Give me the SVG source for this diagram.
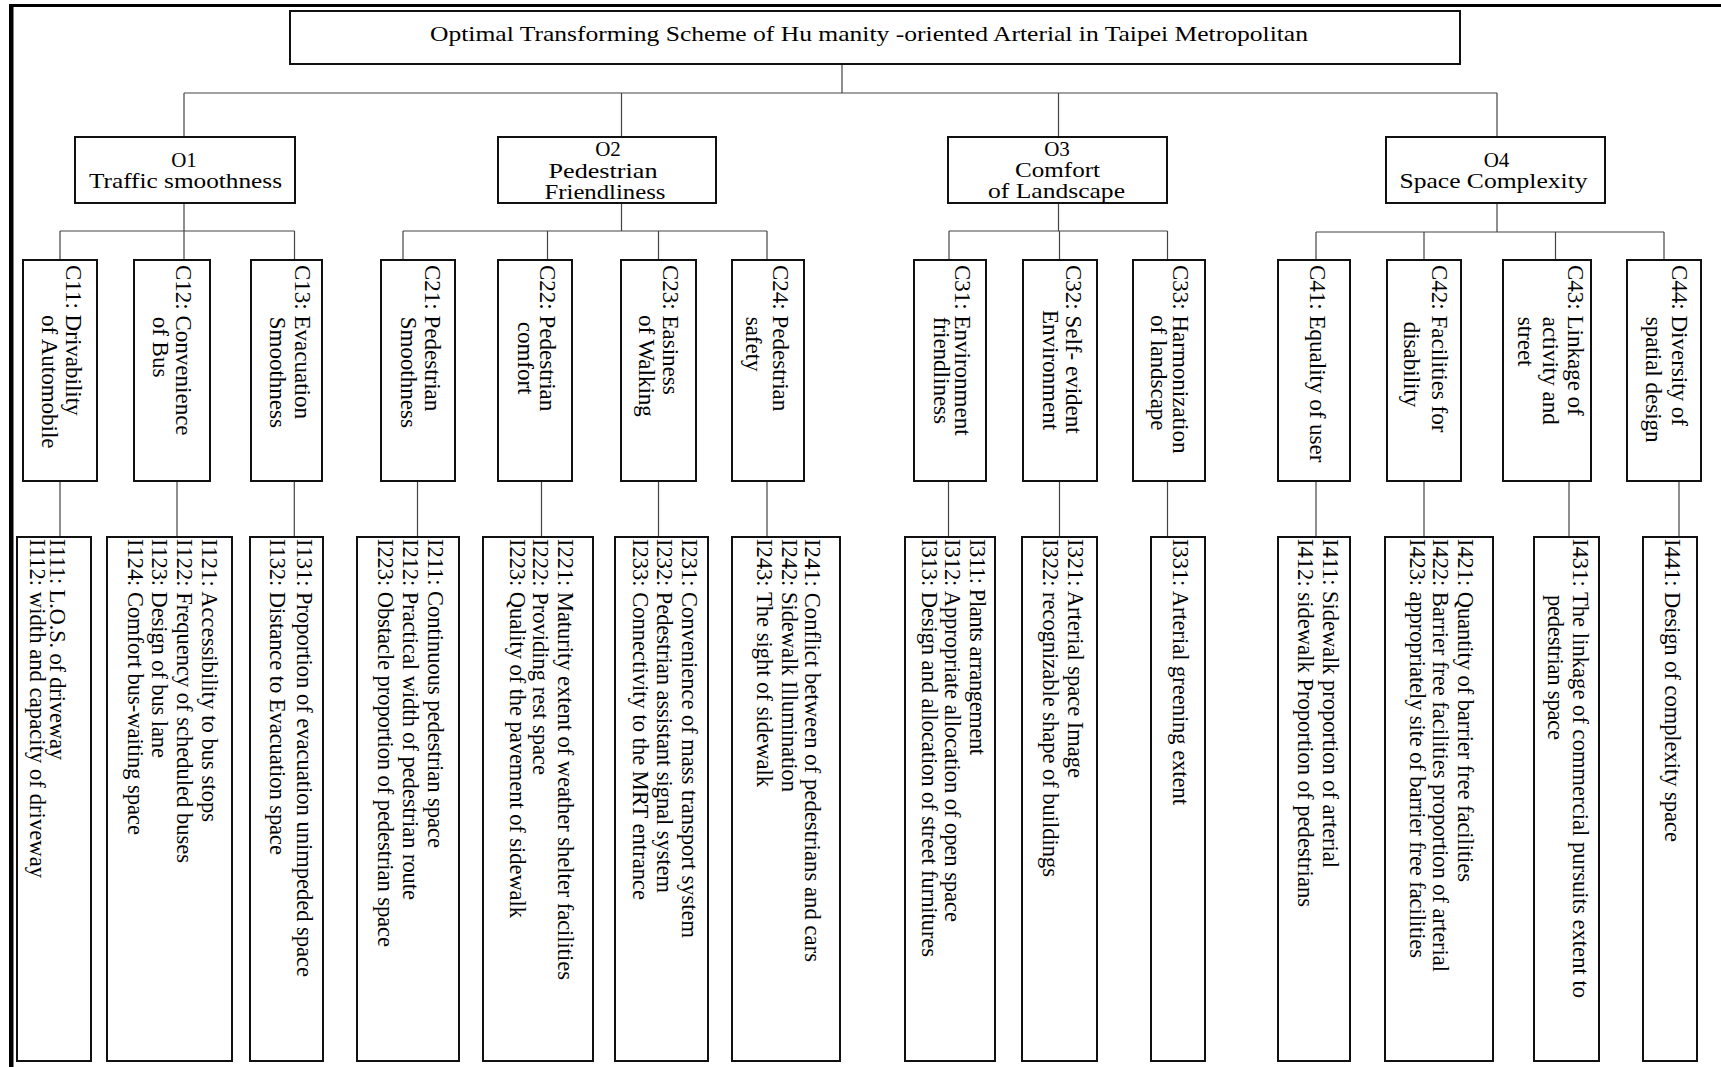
<svg xmlns="http://www.w3.org/2000/svg" width="1721" height="1067" viewBox="0 0 1721 1067">
<style>
text{font-family:"Liberation Serif","Times New Roman",serif;fill:#000}
.box{fill:#fff;stroke:#111;stroke-width:2}
.ot{font-size:21px;text-anchor:middle}
.ct{font-size:23px}
.it{font-size:22.5px}
.con{fill:none;stroke:#444;stroke-width:1.2}
</style>
<rect width="1721" height="1067" fill="#fff"/>
<g id="frame">
<rect x="9" y="4" width="4.5" height="1063" fill="#000"/>
<rect x="9" y="4" width="1712" height="3" fill="#000"/>
</g>
<g id="connectors" class="con">
<path d="M842,64V93M184,93H1497M184,93V137M621.5,93V137M1058.5,93V137M1497,93V137"/>
<path d="M184,203V231M60,231H294.5M60,231V260M184,231V260M294.5,231V260"/>
<path d="M621.5,203V231M403,231H767M403,231V260M547.5,231V260M658.5,231V260M767,231V260"/>
<path d="M1058.5,203V231M949,231H1167.5M949,231V260M1059.5,231V260M1167.5,231V260"/>
<path d="M1497,203V232M1316,232H1664M1316,232V260M1424,232V260M1555.5,232V260M1664,232V260"/>
<path d="M60,481V537M177,481V537M294.3,481V537M417.5,481V537M541.5,481V537M658.5,481V537M767,481V537M948.5,481V537M1059.5,481V537M1167.5,481V537M1316,481V537M1424,481V537M1569,481V537M1679,481V537"/>
</g>
<g id="goal">
<rect class="box" x="290" y="11" width="1170" height="53"/>
<text x="430" y="41" font-size="22" textLength="878" lengthAdjust="spacingAndGlyphs">Optimal Transforming Scheme of Hu manity -oriented Arterial in Taipei Metropolitan</text>
</g>
<g id="O1">
<rect class="box" x="75" y="137" width="220" height="66"/>
<text class="ot" x="184" y="166.7">O1</text>
<text class="ot" x="185.5" y="188" textLength="193" lengthAdjust="spacingAndGlyphs">Traffic smoothness</text>
</g>
<g id="O2">
<rect class="box" x="498" y="137" width="218" height="66"/>
<text class="ot" x="608" y="156">O2</text>
<text class="ot" x="603" y="177.5" textLength="109" lengthAdjust="spacingAndGlyphs">Pedestrian</text>
<text class="ot" x="605" y="198.5" textLength="121" lengthAdjust="spacingAndGlyphs">Friendliness</text>
</g>
<g id="O3">
<rect class="box" x="948" y="137" width="219" height="66"/>
<text class="ot" x="1057" y="156">O3</text>
<text class="ot" x="1057.5" y="177" textLength="85" lengthAdjust="spacingAndGlyphs">Comfort</text>
<text class="ot" x="1056.5" y="197.5" textLength="137" lengthAdjust="spacingAndGlyphs">of Landscape</text>
</g>
<g id="O4">
<rect class="box" x="1386" y="137" width="219" height="66"/>
<text class="ot" x="1496.5" y="167">O4</text>
<text class="ot" x="1493.5" y="187.5" textLength="188" lengthAdjust="spacingAndGlyphs">Space Complexity</text>
</g>
<g id="C11"><rect class="box" x="23" y="260" width="74" height="221"/>
<text class="ct" x="65.8" y="265" transform="rotate(90 65.8 265)">C11: Drivability</text>
<text class="ct" x="41.7" y="315" transform="rotate(90 41.7 315)">of Automobile</text></g>
<g id="C12"><rect class="box" x="134" y="260" width="76" height="221"/>
<text class="ct" x="176" y="265" transform="rotate(90 176 265)">C12: Convenience</text>
<text class="ct" x="152.7" y="316.7" transform="rotate(90 152.7 316.7)">of Bus</text></g>
<g id="C13"><rect class="box" x="251" y="260" width="71" height="221"/>
<text class="ct" x="294.7" y="265" transform="rotate(90 294.7 265)">C13: Evacuation</text>
<text class="ct" x="269.5" y="316.7" transform="rotate(90 269.5 316.7)">Smoothness</text></g>
<g id="C21"><rect class="box" x="381" y="260" width="74" height="221"/>
<text class="ct" x="424.8" y="265" transform="rotate(90 424.8 265)">C21: Pedestrian</text>
<text class="ct" x="401.4" y="316.7" transform="rotate(90 401.4 316.7)">Smoothness</text></g>
<g id="C22"><rect class="box" x="498" y="260" width="74" height="221"/>
<text class="ct" x="539.6" y="265" transform="rotate(90 539.6 265)">C22: Pedestrian</text>
<text class="ct" x="518.2" y="321.7" transform="rotate(90 518.2 321.7)">comfort</text></g>
<g id="C23"><rect class="box" x="621" y="260" width="75" height="221"/>
<text class="ct" x="663.4" y="265" transform="rotate(90 663.4 265)">C23: Easiness</text>
<text class="ct" x="639" y="315" transform="rotate(90 639 315)">of Walking</text></g>
<g id="C24"><rect class="box" x="732" y="260" width="72" height="221"/>
<text class="ct" x="773.3" y="265" transform="rotate(90 773.3 265)">C24: Pedestrian</text>
<text class="ct" x="746" y="316.7" transform="rotate(90 746 316.7)">safety</text></g>
<g id="C31"><rect class="box" x="914" y="260" width="72" height="221"/>
<text class="ct" x="955" y="265" transform="rotate(90 955 265)">C31: Environment</text>
<text class="ct" x="933.6" y="316.7" transform="rotate(90 933.6 316.7)">friendliness</text></g>
<g id="C32"><rect class="box" x="1023" y="260" width="74" height="221"/>
<text class="ct" x="1066" y="265" transform="rotate(90 1066 265)">C32: Self- evident</text>
<text class="ct" x="1042.7" y="310" transform="rotate(90 1042.7 310)">Environment</text></g>
<g id="C33"><rect class="box" x="1133" y="260" width="72" height="221"/>
<text class="ct" x="1173" y="265" transform="rotate(90 1173 265)">C33: Harmonization</text>
<text class="ct" x="1150.7" y="315" transform="rotate(90 1150.7 315)">of landscape</text></g>
<g id="C41"><rect class="box" x="1278" y="260" width="72" height="221"/>
<text class="ct" x="1309.5" y="265" transform="rotate(90 1309.5 265)">C41: Equality of user</text></g>
<g id="C42"><rect class="box" x="1387" y="260" width="74" height="221"/>
<text class="ct" x="1431.5" y="265" transform="rotate(90 1431.5 265)">C42: Facilities for</text>
<text class="ct" x="1404" y="321.7" transform="rotate(90 1404 321.7)">disability</text></g>
<g id="C43"><rect class="box" x="1503" y="260" width="88" height="221"/>
<text class="ct" x="1568" y="265" transform="rotate(90 1568 265)">C43: Linkage of</text>
<text class="ct" x="1542.6" y="316.7" transform="rotate(90 1542.6 316.7)">activity and</text>
<text class="ct" x="1518" y="316.7" transform="rotate(90 1518 316.7)">street</text></g>
<g id="C44"><rect class="box" x="1627" y="260" width="74" height="221"/>
<text class="ct" x="1671.7" y="265" transform="rotate(90 1671.7 265)">C44: Diversity of</text>
<text class="ct" x="1646" y="316.7" transform="rotate(90 1646 316.7)">spatial design</text></g>
<g id="I11"><rect class="box" x="17" y="537" width="74" height="524"/>
<text class="it" x="50" y="539" transform="rotate(90 50 539)" textLength="221">I111: L.O.S. of driveway</text>
<text class="it" x="30" y="539" transform="rotate(90 30 539)" textLength="339">I112: width and capacity of driveway</text></g>
<g id="I12"><rect class="box" x="107" y="537" width="125" height="524"/>
<text class="it" x="201.7" y="539" transform="rotate(90 201.7 539)" textLength="283">I121: Accessibility to bus stops</text>
<text class="it" x="176.7" y="539" transform="rotate(90 176.7 539)" textLength="324">I122: Frequency of scheduled buses</text>
<text class="it" x="151.7" y="539" transform="rotate(90 151.7 539)" textLength="219">I123: Design of bus lane</text>
<text class="it" x="128.3" y="539" transform="rotate(90 128.3 539)" textLength="296">I124: Comfort bus-waiting space</text></g>
<g id="I13"><rect class="box" x="250" y="537" width="73" height="524"/>
<text class="it" x="296.7" y="539" transform="rotate(90 296.7 539)" textLength="438">I131: Proportion of evacuation unimpeded space</text>
<text class="it" x="270" y="539" transform="rotate(90 270 539)" textLength="316">I132: Distance to Evacuation space</text></g>
<g id="I21"><rect class="box" x="357" y="537" width="102" height="524"/>
<text class="it" x="428.3" y="539" transform="rotate(90 428.3 539)" textLength="309">I211: Continuous pedestrian space</text>
<text class="it" x="403.3" y="539" transform="rotate(90 403.3 539)" textLength="361">I212: Practical width of pedestrian route</text>
<text class="it" x="378.3" y="539" transform="rotate(90 378.3 539)" textLength="408">I223: Obstacle proportion of pedestrian space</text></g>
<g id="I22"><rect class="box" x="483" y="537" width="110" height="524"/>
<text class="it" x="558.3" y="539" transform="rotate(90 558.3 539)" textLength="441">I221: Maturity extent of weather shelter facilities</text>
<text class="it" x="533.3" y="539" transform="rotate(90 533.3 539)" textLength="236">I222: Providing rest space</text>
<text class="it" x="510" y="539" transform="rotate(90 510 539)" textLength="379">I223: Quality of the pavement of sidewalk</text></g>
<g id="I23"><rect class="box" x="615" y="537" width="93" height="524"/>
<text class="it" x="681.7" y="539" transform="rotate(90 681.7 539)" textLength="399">I231: Convenience of mass transport system</text>
<text class="it" x="656.7" y="539" transform="rotate(90 656.7 539)" textLength="354">I232: Pedestrian assistant signal system</text>
<text class="it" x="633.3" y="539" transform="rotate(90 633.3 539)" textLength="361">I233: Connectivity to the MRT entrance</text></g>
<g id="I24"><rect class="box" x="732" y="537" width="108" height="524"/>
<text class="it" x="805" y="539" transform="rotate(90 805 539)" textLength="423">I241: Conflict between of pedestrians and cars</text>
<text class="it" x="781.7" y="539" transform="rotate(90 781.7 539)" textLength="253">I242: Sidewalk Illumination</text>
<text class="it" x="756.7" y="539" transform="rotate(90 756.7 539)" textLength="248">I243: The sight of sidewalk</text></g>
<g id="I31"><rect class="box" x="905" y="537" width="90" height="524"/>
<text class="it" x="970" y="539" transform="rotate(90 970 539)" textLength="216">I311: Plants arrangement</text>
<text class="it" x="945" y="539" transform="rotate(90 945 539)" textLength="383">I312: Appropriate allocation of open space</text>
<text class="it" x="921.7" y="539" transform="rotate(90 921.7 539)" textLength="418">I313: Design and allocation of street furnitures</text></g>
<g id="I32"><rect class="box" x="1022" y="537" width="75" height="524"/>
<text class="it" x="1068.3" y="539" transform="rotate(90 1068.3 539)" textLength="239">I321: Arterial space Image</text>
<text class="it" x="1043.3" y="539" transform="rotate(90 1043.3 539)" textLength="338">I322: recognizable shape of buildings</text></g>
<g id="I33"><rect class="box" x="1151" y="537" width="54" height="524"/>
<text class="it" x="1173.3" y="539" transform="rotate(90 1173.3 539)" textLength="266">I331: Arterial greening extent</text></g>
<g id="I41"><rect class="box" x="1278" y="537" width="72" height="524"/>
<text class="it" x="1323.3" y="539" transform="rotate(90 1323.3 539)" textLength="329">I411: Sidewalk proportion of arterial</text>
<text class="it" x="1298.3" y="539" transform="rotate(90 1298.3 539)" textLength="368">I412: sidewalk Proportion of pedestrians</text></g>
<g id="I42"><rect class="box" x="1385" y="537" width="108" height="524"/>
<text class="it" x="1458.3" y="539" transform="rotate(90 1458.3 539)" textLength="343">I421: Quantity of barrier free facilities</text>
<text class="it" x="1433.3" y="539" transform="rotate(90 1433.3 539)" textLength="433">I422: Barrier free facilities proportion of arterial</text>
<text class="it" x="1410" y="539" transform="rotate(90 1410 539)" textLength="419">I423: appropriately site of barrier free facilities</text></g>
<g id="I43"><rect class="box" x="1534" y="537" width="65" height="524"/>
<text class="it" x="1573.3" y="539" transform="rotate(90 1573.3 539)" textLength="459">I431: The linkage of commercial pursuits extent to</text>
<text class="it" x="1548.3" y="595" transform="rotate(90 1548.3 595)" textLength="145">pedestrian space</text></g>
<g id="I44"><rect class="box" x="1643" y="537" width="54" height="524"/>
<text class="it" x="1665" y="539" transform="rotate(90 1665 539)" textLength="303">I441: Design of complexity space</text></g>
</svg>
